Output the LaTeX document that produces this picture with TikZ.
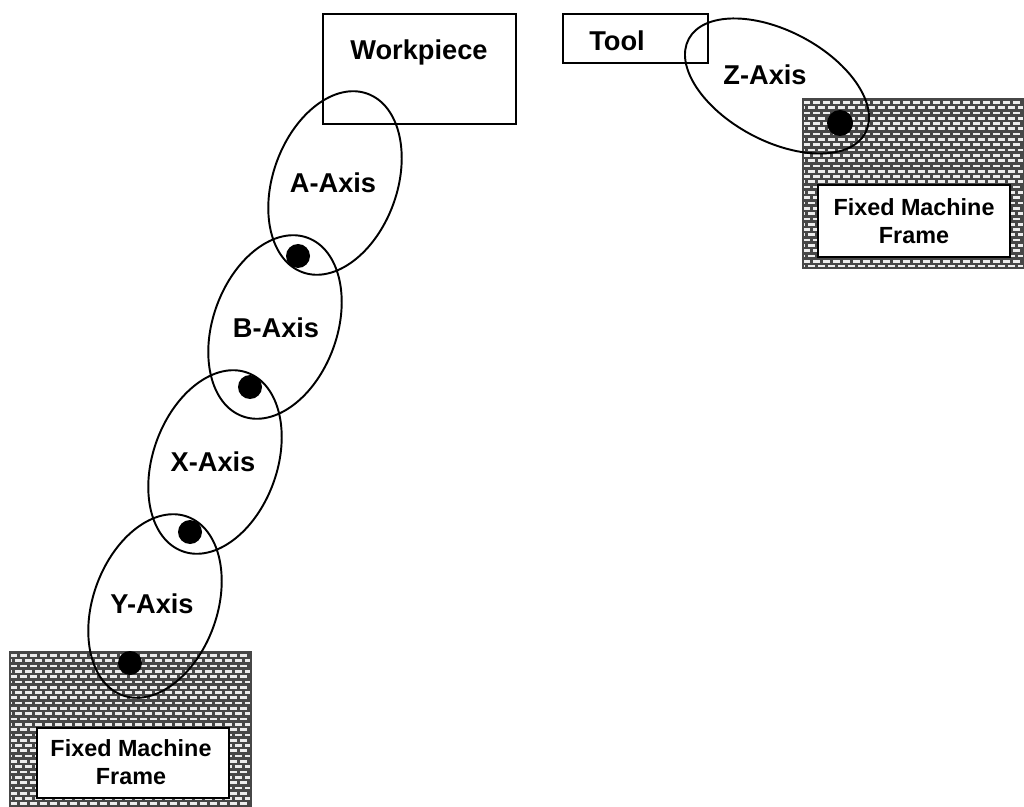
\documentclass[tikz,border=0pt]{standalone}
\usepackage{fontspec}
\setmainfont{Liberation Sans}

\definecolor{mortar}{gray}{0.28}
\definecolor{brick}{gray}{0.93}

% brick wall filling a rectangle: x1, y1, x2, y2
\newcommand{\brickwall}[4]{%
  \begin{scope}
    \clip (#1,#2) rectangle (#3,#4);
    \fill[mortar] (#1,#2) rectangle (#3,#4);
    \foreach \r in {0,...,33}{
      \pgfmathsetmacro{\yy}{#2+2+\r*5.3}
      \pgfmathsetmacro{\off}{mod(\r,2)*5}
      \foreach \c in {-1,...,24}{
        \fill[brick] ({#1+\off+\c*10},\yy) rectangle ++(7.4,2.7);
      }
    }
  \end{scope}
  \draw[mortar, line width=1.1pt] (#1,#2) rectangle (#3,#4);
}

\begin{document}
\begin{tikzpicture}[x=0.02cm, y=-0.02cm,
    axislabel/.style={font=\fontsize{15.5}{18}\selectfont\bfseries},
    framelabel/.style={font=\fontsize{13.3}{16}\selectfont\bfseries, align=center},
    axisring/.style={line width=1.1pt},
    joint/.style={fill=black}]
        \useasboundingbox (0,0) rectangle (1024,807);

        % fixed frames
        \brickwall{10}{652}{251}{812}
        \brickwall{803}{99}{1024}{268}
        \draw[fill=white, line width=0.9pt] (37,728) rectangle (229,798);
        \draw[fill=white, line width=0.9pt] (818,185) rectangle (1010,257);
        \node[framelabel] (frameL) at (131,762) {Fixed Machine\\Frame};
        \node[framelabel] (frameR) at (914,221) {Fixed Machine\\Frame};

        % workpiece and tool
        \draw[line width=0.8pt] (323,14) rectangle (516,124);
        \draw[line width=0.8pt] (563,14) rectangle (708,63);
        \node[axislabel] (workpiece) at (419,52) {Workpiece};
        \node[axislabel] (tool) at (617,41) {Tool};

        % axis links
        \draw[axisring, rotate around={70:(335,183)}] (335,183) ellipse (95 and 62);
        \draw[axisring, rotate around={70:(275,327)}] (275,327) ellipse (95 and 62);
        \draw[axisring, rotate around={70:(215,462)}] (215,462) ellipse (95 and 62);
        \draw[axisring, rotate around={70:(155,606)}] (155,606) ellipse (95 and 62);
        \draw[axisring, rotate around={-28:(777,86)}] (777,86) ellipse (100 and 55);

        \node[axislabel] (A) at (333,183) {A-Axis};
        \node[axislabel] (B) at (276,328) {B-Axis};
        \node[axislabel] (X) at (213,462) {X-Axis};
        \node[axislabel] (Y) at (152,604) {Y-Axis};
        \node[axislabel] (Z) at (765,75) {Z-Axis};

        % joints
        \fill[joint] (298,256) circle (12);
        \fill[joint] (250,387) circle (12);
        \fill[joint] (190,532) circle (12);
        \fill[joint] (130,663) circle (12);
        \fill[joint] (840,123) circle (13);
    \end{tikzpicture}
\end{document}
